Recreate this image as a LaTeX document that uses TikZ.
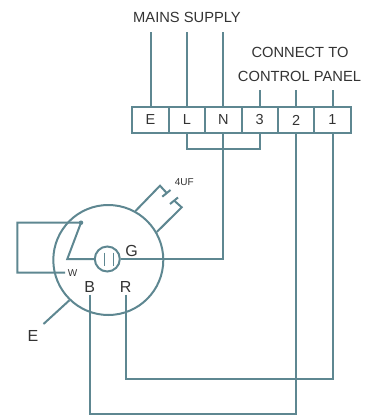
\documentclass[tikz,border=0pt]{standalone}
\usepackage{fontspec}
\setmainfont{Liberation Sans}
\usepackage{tikz}
\usetikzlibrary{calc}
\definecolor{wire}{HTML}{5E8791}
\definecolor{ink}{HTML}{333333}
\tikzset{x=1pt, y=-1pt,
    wire line/.style={draw=wire, line width=2pt, line join=miter},
    terminal/.style={draw=wire, line width=2pt, minimum width=36.4pt, minimum height=26pt,
          inner sep=0pt, outer sep=0pt, text=ink, font=\fontsize{14.5}{15}\selectfont},
    big label/.style={text=ink, inner sep=0pt, font=\fontsize{14.7}{15}\selectfont},
    pin label/.style={text=ink, inner sep=2pt, font=\fontsize{16}{16}\selectfont},
    small label/.style={text=ink, inner sep=0pt, font=\fontsize{10}{10}\selectfont},
    pivot dot/.style={circle, fill=wire, inner sep=0pt, minimum size=4.5pt}
    }
\def\Terminal#1#2#3{%
  \node[terminal] (#1) at (#2,120) {#3};
}
\begin{document}
\begin{tikzpicture}
\useasboundingbox (0,0) rectangle (366,415);
\Terminal{termE}{150.5}{E}
\Terminal{termL}{186.9}{L}
\Terminal{termN}{223.3}{N}
\Terminal{termThree}{259.7}{3}
\Terminal{termTwo}{296.1}{2}
\Terminal{termOne}{332.5}{1}
\node[big label] (mains) at (187,17.5) {MAINS SUPPLY};
\node[big label] (connect) at (300,52.5) {CONNECT TO};
\node[big label] (control) at (299.5,76.5) {CONTROL PANEL};
% motor
\node[circle, draw=wire, line width=2pt, minimum size=110pt, inner sep=0pt] (motor) at (108.3,260) {};
\node[circle, draw=wire, line width=2pt, minimum size=25pt, inner sep=0pt] (gland) at (107.3,259) {};
\node[pin label, inner sep=0pt] (G) at (131.7,251) {G};
\node[small label] (W) at (72.5,273) {W};
\node[pin label] (B) at (89.7,287) {B};
\node[pin label] (R) at (125.7,287) {R};
\node[pin label, inner sep=0pt] (earth) at (33,336) {E};
\node[small label] (cap) at (184.3,181.7) {4UF};
\node[pivot dot] (pivot) at (81,222.7) {};
% free ends
\coordinate (mainsE) at (150.5,32);
\coordinate (mainsL) at (186.9,32);
\coordinate (mainsN) at (223.3,32);
\coordinate (panelThree) at (259.7,90);
\coordinate (panelTwo) at (296.1,90);
\coordinate (panelOne) at (332.5,90);
\coordinate (bridge) at (186.9,149);
\coordinate (lowB) at (89.7,413.5);
\coordinate (lowR) at (125.7,379);
\coordinate (elbow) at (67.3,259);
\coordinate (loopA) at (17.3,222.7);
\coordinate (loopB) at (17.3,272.5);
\coordinate (loopC) at (65,272.5);
\coordinate (earthEnd) at (43.5,324);
\coordinate (capA) at (160,185.7);
\coordinate (capB) at (181.7,207.3);
\coordinate (plateA) at (166.5,192.8);
\coordinate (plateB) at (174.3,200.7);
% wires
\draw[wire line] (mainsE) -- (termE.north);
\draw[wire line] (mainsL) -- (termL.north);
\draw[wire line] (mainsN) -- (termN.north);
\draw[wire line] (panelThree) -- (termThree.north);
\draw[wire line] (panelTwo) -- (termTwo.north);
\draw[wire line] (panelOne) -- (termOne.north);
\draw[wire line] (termL.south) -- (bridge) -| (termThree.south);
\draw[wire line] (termN.south) |- (gland.east);
\draw[wire line] (gland.west) -- (elbow) -- (pivot.center) -- (loopA) -- (loopB) -- (loopC);
\draw[wire line] (B.south) -- (lowB) -| (termTwo.south);
\draw[wire line] (R.south) -- (lowR) -| (termOne.south);
\draw[wire line] (motor.226) -- (earthEnd);
% capacitor
\draw[wire line] (motor.61) -- (capA) -- (plateA);
\draw[wire line] (motor.30) -- (capB) -- (plateB);
\draw[wire line] (162.3,196.7) -- (170.5,190);
\draw[wire line] (170,204) -- (178,197.5);
% gland plates
\draw[wire line, line width=1.5pt] ($(gland.center)+(-3,-6.5)$) -- +(0,13);
\draw[wire line, line width=1.5pt] ($(gland.center)+(6,-6.5)$) -- +(0,13);
\end{tikzpicture}
\end{document}
